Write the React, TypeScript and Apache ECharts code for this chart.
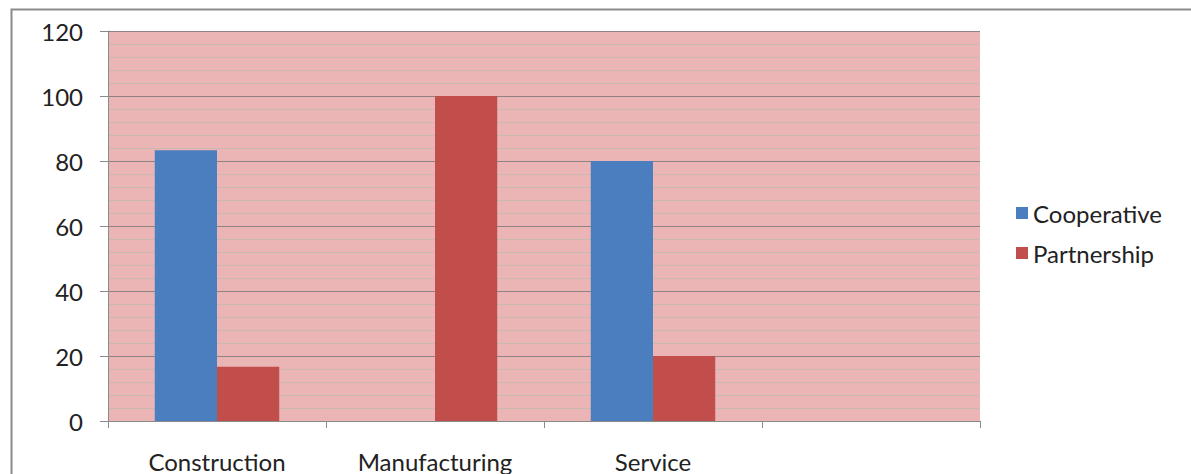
import React, { useEffect, useRef } from "react";
import * as echarts from "echarts";

// Share of firms by ownership type in each sector (%)
const categories = ["Construction", "Manufacturing", "Service", ""];
const cooperative = [83.3, 0, 80, null];
const partnership = [16.7, 100, 20, null];
const yTicks = { min: 0, max: 120, interval: 20 };

const FONT = "Lato, 'Open Sans', sans-serif";

export default function App() {
  const ref = useRef<HTMLDivElement>(null);

  useEffect(() => {
    document.body.style.margin = "0";
    const chart = echarts.init(ref.current!, null, { renderer: "svg" });
    chart.setOption({
      animation: false,
      backgroundColor: "#ffffff",
      graphic: [
        {
          type: "rect",
          left: 9,
          top: 7,
          shape: { width: 1300, height: 600 },
          style: { fill: "none", stroke: "#8c8c8c", lineWidth: 2 },
          z: 0,
        },
      ],
      grid: {
        left: 108,
        right: 211,
        top: 31,
        bottom: 53,
        show: true,
        backgroundColor: "#eab5b4",
        borderWidth: 0,
      },
      legend: {
        orient: "vertical",
        left: 1011,
        top: 196,
        itemWidth: 12,
        itemHeight: 12,
        itemGap: 16,
        icon: "rect",
        textStyle: { fontFamily: FONT, fontSize: 24, color: "#222" },
        data: ["Cooperative", "Partnership"],
      },
      xAxis: {
        type: "category",
        data: categories,
        axisLine: { show: true, lineStyle: { color: "#8a8a8a", width: 1 } },
        axisTick: { show: true, length: 7, alignWithLabel: false, lineStyle: { color: "#8a8a8a" } },
        axisLabel: { fontFamily: FONT, fontSize: 24, color: "#222", margin: 28 },
        splitLine: { show: false },
      },
      yAxis: {
        type: "value",
        min: yTicks.min,
        max: yTicks.max,
        interval: yTicks.interval,
        axisLine: { show: true, lineStyle: { color: "#8a8a8a", width: 1 } },
        axisTick: { show: true, length: 8, lineStyle: { color: "#8a8a8a" } },
        axisLabel: { fontFamily: FONT, fontSize: 24, color: "#222", margin: 25 },
        splitLine: { show: true, lineStyle: { color: "#8e8383", width: 1 } },
        minorTick: { show: false, splitNumber: 5 },
        minorSplitLine: { show: true, lineStyle: { color: "#c9b9b1", width: 1 } },
      },
      series: [
        {
          name: "Cooperative",
          type: "bar",
          data: cooperative,
          barGap: "0%",
          barCategoryGap: "42.9%",
          itemStyle: { color: "#4a7ebe" },
          z: 3,
        },
        {
          name: "Partnership",
          type: "bar",
          data: partnership,
          barGap: "0%",
          barCategoryGap: "42.9%",
          itemStyle: { color: "#c24e4c" },
          z: 3,
        },
      ],
    });
    return () => chart.dispose();
  }, []);

  return <div ref={ref} style={{ width: 1191, height: 474 }} />;
}
